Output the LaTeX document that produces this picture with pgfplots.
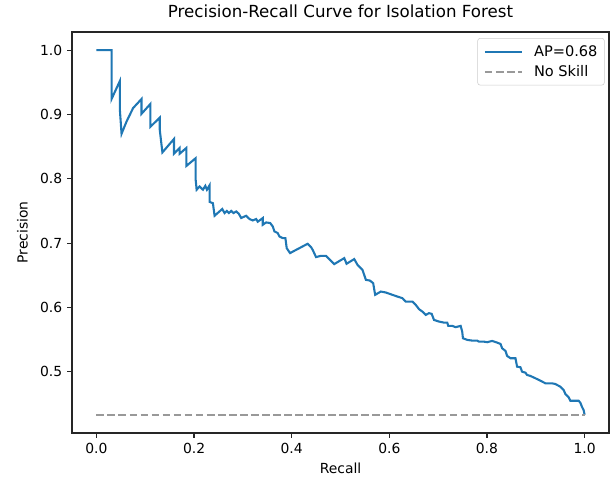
\documentclass[border=0pt]{standalone}
\usepackage{fontspec}
\setmainfont{DejaVu Sans}
\usepackage{pgfplots}
\pgfplotsset{compat=1.18}
\definecolor{mplblue}{HTML}{1F77B4}
\definecolor{skillgray}{HTML}{999999}
\begin{document}
\begin{tikzpicture}
\begin{axis}[
    scale only axis,
    width=386.64pt, height=288.72pt,
    xmin=-0.05, xmax=1.05,
    ymin=0.4046, ymax=1.0283,
    xtick={0,0.2,0.4,0.6,0.8,1.0},
    ytick={0.5,0.6,0.7,0.8,0.9,1.0},
    xticklabel style={/pgf/number format/.cd,fixed,fixed zerofill,precision=1},
    yticklabel style={/pgf/number format/.cd,fixed,fixed zerofill,precision=1},
    /pgf/number format/assume math mode=true,
    tick label style={font=\fontsize{10}{12}\selectfont},
    tick align=outside,
    tickpos=left,
    major tick length=3.5pt,
    every tick/.style={black!85, line width=0.8pt},
    axis line style={black!85, line width=0.8pt},
    title={Precision-Recall Curve for Isolation Forest},
    title style={font=\fontsize{12}{14}\selectfont, yshift=1pt},
    xlabel={Recall},
    ylabel={Precision},
    ylabel style={yshift=2pt},
    label style={font=\fontsize{10}{12}\selectfont},
    legend style={at={(0.992,0.985)}, anchor=north east, draw=black!20, rounded corners=2pt,
        font=\fontsize{10.5}{12}\selectfont, inner xsep=3pt, inner ysep=3pt, row sep=1pt},
    legend cell align=left,
    legend image code/.code={\path (-0.05cm,0cm) (1.15cm,0cm); \draw[#1] (0cm,0cm) -- (0.95cm,0cm);},
]
\addplot[mplblue, line width=1.5pt, line join=miter] coordinates {
(0,1.0) (0.031,1.0) (0.031,0.924) (0.048,0.952) (0.048,0.908) (0.0515,0.870)
(0.0617,0.889) (0.0752,0.910) (0.0923,0.924) (0.0923,0.901) (0.1107,0.9165)
(0.1107,0.881) (0.1297,0.895) (0.1297,0.8765) (0.1352,0.841) (0.159,0.862)
(0.159,0.839) (0.1706,0.848) (0.1706,0.839) (0.1843,0.848) (0.1843,0.820)
(0.2033,0.832) (0.2033,0.7986) (0.2053,0.783) (0.2114,0.788) (0.2182,0.783)
(0.2231,0.789) (0.2264,0.783) (0.2319,0.790) (0.2319,0.764) (0.2386,0.762)
(0.2421,0.7425) (0.2578,0.753) (0.2625,0.7467) (0.2672,0.750) (0.2713,0.7467)
(0.2762,0.750) (0.2809,0.7467) (0.2864,0.7492) (0.2917,0.7456) (0.2966,0.739)
(0.3068,0.7425) (0.3136,0.7374) (0.3203,0.7352) (0.3273,0.7374) (0.3305,0.7332)
(0.3408,0.7389) (0.3408,0.7285) (0.3477,0.7321) (0.3559,0.7312) (0.3612,0.7259)
(0.3647,0.7181) (0.3714,0.7156) (0.3749,0.7103) (0.3816,0.7078) (0.3871,0.7078)
(0.3898,0.6922) (0.3967,0.6844) (0.4055,0.6880) (0.4327,0.6989) (0.4396,0.6938)
(0.4429,0.6896) (0.4499,0.6782) (0.4601,0.6802) (0.4703,0.6802) (0.4770,0.6751)
(0.4872,0.6673) (0.5077,0.6766) (0.5124,0.6678) (0.5281,0.6751) (0.5348,0.6662)
(0.5450,0.6584) (0.5520,0.6428) (0.5602,0.6417) (0.5669,0.6377) (0.5710,0.6195)
(0.5826,0.6246) (0.5929,0.6231) (0.6063,0.6195) (0.6166,0.6168) (0.6268,0.6143)
(0.6337,0.6090) (0.6472,0.6090) (0.6541,0.6039) (0.6609,0.5972) (0.6676,0.5935)
(0.6746,0.5883) (0.6813,0.5910) (0.6868,0.5899) (0.6915,0.5805) (0.7017,0.5779)
(0.7119,0.5763) (0.7187,0.5763) (0.7207,0.5712) (0.7289,0.5712) (0.7359,0.5692)
(0.7461,0.5712) (0.7493,0.5623) (0.7508,0.5520) (0.7596,0.5494) (0.7698,0.5483)
(0.7800,0.5483) (0.7835,0.5467) (0.7937,0.5467) (0.8004,0.5458) (0.8106,0.5478)
(0.8208,0.5452) (0.8278,0.5431) (0.8311,0.5364) (0.8380,0.5322) (0.8413,0.5245)
(0.8482,0.5209) (0.8584,0.5209) (0.8617,0.5078) (0.8686,0.5069) (0.8719,0.5000)
(0.8789,0.4984) (0.8821,0.4949) (0.8891,0.4933) (0.8993,0.4897) (0.9095,0.4860)
(0.9197,0.4819) (0.9332,0.4819) (0.9401,0.4808) (0.9503,0.4766) (0.9571,0.4715)
(0.9606,0.4653) (0.9673,0.4601) (0.9708,0.4548) (0.9877,0.4548) (0.9913,0.4517)
(0.9945,0.4455) (0.9980,0.4403) (1.0,0.4330)
};
\addlegendentry{AP=0.68}
\addplot[skillgray, line width=1.5pt, dash pattern=on 5.55pt off 2.4pt] coordinates {(0,0.433) (1,0.433)};
\addlegendentry{No Skill}
\end{axis}
\pgfresetboundingbox
\path[use as bounding box] ([xshift=-51.84pt,yshift=-33.84pt]current axis.south west) rectangle ([xshift=0.72pt,yshift=23.04pt]current axis.north east);
\end{tikzpicture}
\end{document}
